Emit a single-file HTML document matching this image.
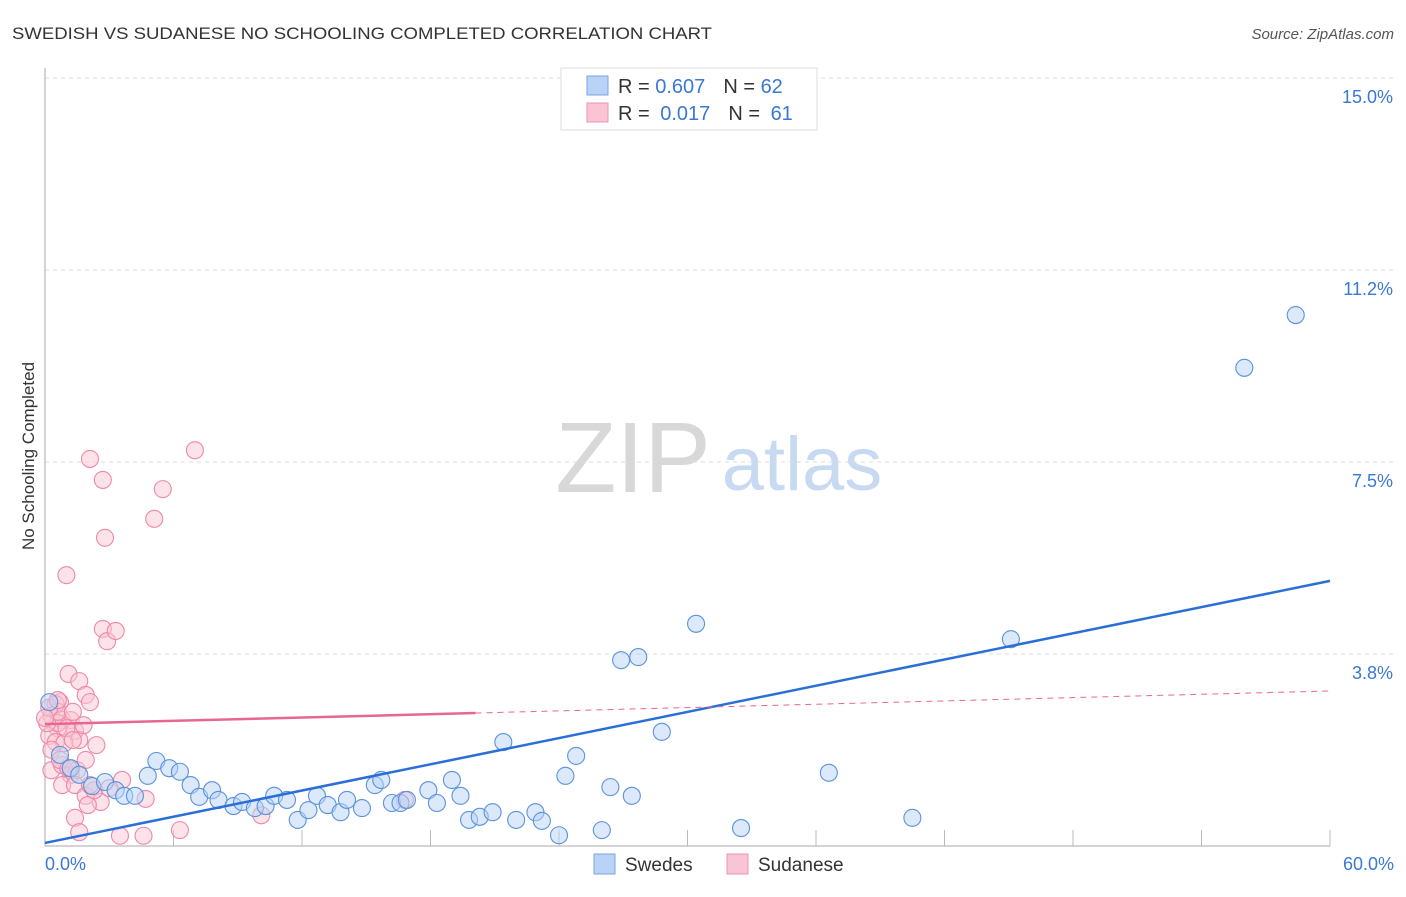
<!DOCTYPE html>
<html><head><meta charset="utf-8"><style>
body{margin:0;background:#fff;font-family:"Liberation Sans",sans-serif}
svg text{font-family:"Liberation Sans",sans-serif}
</style></head><body>
<svg id="chart" width="1406" height="892">
<text x="12" y="39" font-size="17" fill="#333" textLength="700" lengthAdjust="spacingAndGlyphs">SWEDISH VS SUDANESE NO SCHOOLING COMPLETED CORRELATION CHART</text>
<text x="1394" y="39" font-size="15" fill="#555" text-anchor="end" font-style="italic">Source: ZipAtlas.com</text>
<text x="34" y="456" font-size="17" fill="#333" text-anchor="middle" transform="rotate(-90 34 456)">No Schooling Completed</text>
<g><text x="633" y="492" font-size="100" font-family="Liberation Serif" fill="#d8d8d8" text-anchor="middle">ZIP</text><text x="802" y="490" font-size="76" fill="#c8daf2" text-anchor="middle">atlas</text></g>
<g id="grid"></g><g id="axes"></g><g id="marks"></g>
<g>
<rect x="561" y="68" width="256" height="62" fill="#fff" stroke="#ddd"/>
<rect x="587" y="76" width="21" height="19" fill="#b8d3f5" stroke="#7aa6e0"/>
<rect x="587" y="103" width="21" height="19" fill="#f9c5d4" stroke="#ee93b0"/>
<text x="618" y="93" font-size="20" fill="#333">R = <tspan fill="#3a78d6">0.607</tspan><tspan dx="18">N = </tspan><tspan fill="#3a78d6">62</tspan></text>
<text x="618" y="120" font-size="20" fill="#333">R = <tspan fill="#3a78d6" dx="5">0.017</tspan><tspan dx="18">N = </tspan><tspan fill="#3a78d6" dx="5">61</tspan></text>
</g>
<g>
<rect x="594" y="854" width="21" height="20" fill="#b8d3f5" stroke="#7aa6e0"/>
<text x="625" y="871" font-size="19" fill="#333">Swedes</text>
<rect x="727" y="854" width="21" height="20" fill="#f9c5d4" stroke="#ee93b0"/>
<text x="758" y="871" font-size="19" fill="#333">Sudanese</text>
</g>
</svg>
<script>
const yTicks=[3.75,7.5,11.25,15];
const yTickLabels=["3.8%","7.5%","11.2%","15.0%"];
const xTickLabels=["0.0%","60.0%"];
const swedesX=[0.2,0.7,1.2,1.6,2.2,2.8,3.3,3.7,4.2,4.8,5.2,5.8,6.3,6.8,7.2,7.8,8.1,8.8,9.2,9.8,10.3,10.7,11.3,11.8,12.3,12.7,13.2,13.8,14.1,14.8,15.4,15.7,16.2,16.6,16.9,17.9,18.3,19.0,19.4,19.8,20.3,20.9,21.4,22.0,22.9,23.2,24.0,24.3,24.8,26.0,26.4,26.9,27.4,27.7,28.8,30.4,32.5,36.6,40.5,45.1,56.0,58.4];
const swedesY=[2.81,1.78,1.52,1.39,1.17,1.25,1.09,0.98,0.98,1.37,1.66,1.52,1.45,1.19,0.96,1.09,0.90,0.78,0.86,0.74,0.78,0.98,0.90,0.51,0.70,0.98,0.80,0.66,0.90,0.74,1.19,1.29,0.84,0.84,0.90,1.09,0.84,1.29,0.98,0.51,0.57,0.66,2.03,0.51,0.66,0.49,0.21,1.37,1.76,0.31,1.15,3.63,0.98,3.69,2.23,4.34,0.35,1.43,0.55,4.04,9.34,10.37];
const sudaneseX=[1.0,2.1,2.7,2.8,5.1,5.5,7.0,2.7,2.9,3.3,1.1,1.6,1.9,2.1,0.7,0.5,0.3,0.8,1.2,0.6,0.2,1.4,1.6,2.4,0.5,0.9,0.3,0.8,1.2,1.5,1.9,0.8,1.4,1.9,2.6,2.0,2.3,3.6,4.7,1.4,1.6,3.5,4.6,6.3,10.1,16.8,0.6,0.1,0.3,0.6,1.0,1.3,2.1,3.0,0.7,1.1,0.2,0.0,0.6,1.3,1.8];
const sudaneseY=[5.29,7.56,7.15,6.02,6.39,6.97,7.73,4.24,4.00,4.20,3.36,3.22,2.95,2.81,2.81,2.77,2.54,2.46,2.46,2.30,2.15,2.25,2.07,1.97,2.03,2.01,1.48,1.58,1.39,1.48,1.68,1.19,1.19,0.98,0.86,0.80,1.09,1.29,0.92,0.55,0.27,0.20,0.20,0.31,0.60,0.90,2.40,2.40,1.88,2.62,2.30,2.07,1.19,1.13,1.68,1.52,2.70,2.50,2.85,2.62,2.36];
const swedesTrend=[0.06,0.0853];
const sudaneseTrend=[2.38,0.0108];
const sudaneseSolidEnd=20.1;
const X0=45,X1=1330,Y0=846,Y1=78;
const xs=v=>X0+v/60*(X1-X0);
const ys=v=>Y0-v/15*(Y0-Y1);
const NS="http://www.w3.org/2000/svg";
function mk(p,t,a){const e=document.createElementNS(NS,t);for(const k in a)e.setAttribute(k,a[k]);p.appendChild(e);return e;}
const grid=document.getElementById('grid'),axes=document.getElementById('axes'),marks=document.getElementById('marks');
yTicks.forEach((t,i)=>{
 const l=mk(grid,'line',{x1:X0,x2:1395,y1:ys(t),y2:ys(t),stroke:'#ddd','stroke-dasharray':'4,4'});
 
 
 const tx=mk(axes,'text',{x:1393,y:ys(t)+25,'font-size':18,fill:'#3a78d6','text-anchor':'end'});
 tx.textContent=yTickLabels[i];
 
 
});
const ya=mk(axes,'line',{x1:X0,x2:X0,y1:68,y2:Y0,stroke:'#aaa'});


const xa=mk(axes,'line',{x1:X0,x2:X1,y1:Y0,y2:Y0,stroke:'#aaa'});


for(let i=1;i<=10;i++){const t=mk(axes,'line',{x1:xs(i*6),x2:xs(i*6),y1:Y0,y2:Y0-16,stroke:'#bbb'});
 
 }
[[0,'start',45],[60,'end',1394]].forEach((d,i)=>{const t=mk(axes,'text',{x:d[2],y:870,'font-size':18,fill:'#3a78d6','text-anchor':d[1]});t.textContent=xTickLabels[i];
 
 });
function dots(X,Y,fill,stroke,name){X.forEach((x,i)=>{const c=mk(marks,'circle',{cx:xs(x),cy:ys(Y[i]),r:8.5,fill:fill,'fill-opacity':0.5,stroke:stroke,'stroke-width':1.1});
 
 });}
dots(sudaneseX,sudaneseY,'#f9c5d4','#ee88a8','sudanese-point');
dots(swedesX,swedesY,'#b8d3f5','#5b92dc','swedes-point');
const bt=mk(marks,'line',{x1:xs(0),y1:ys(swedesTrend[0]),x2:xs(60),y2:ys(swedesTrend[0]+60*swedesTrend[1]),stroke:'#2a6fd6','stroke-width':2.5});


const pt=mk(marks,'line',{x1:xs(0),y1:ys(sudaneseTrend[0]),x2:xs(sudaneseSolidEnd),y2:ys(sudaneseTrend[0]+sudaneseSolidEnd*sudaneseTrend[1]),stroke:'#e86692','stroke-width':2.5});


const pd=mk(marks,'line',{x1:xs(sudaneseSolidEnd),y1:ys(sudaneseTrend[0]+sudaneseSolidEnd*sudaneseTrend[1]),x2:xs(60),y2:ys(sudaneseTrend[0]+60*sudaneseTrend[1]),stroke:'#e86692','stroke-width':1,'stroke-dasharray':'6,5'});


</script>
</body></html>
